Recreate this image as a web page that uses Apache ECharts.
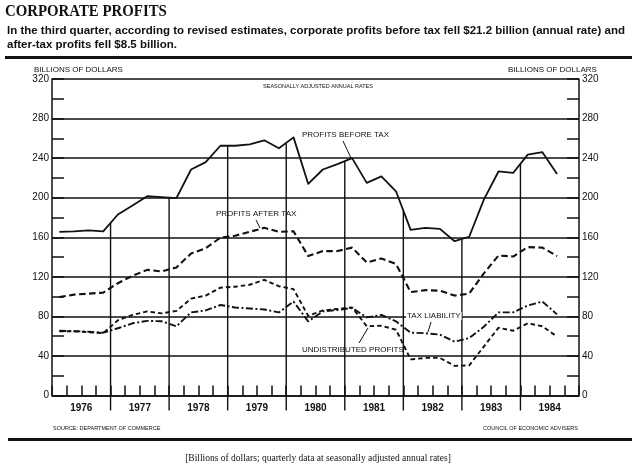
<!DOCTYPE html>
<html><head><meta charset="utf-8">
<script src="https://cdn.jsdelivr.net/npm/echarts@6/dist/echarts.min.js"></script>
<style>html,body{margin:0;padding:0;background:#fff}#c{width:637px;height:466px}</style>
</head><body><div id="c"></div>
<script>
// ---- data (billions of dollars, seasonally adjusted annual rates, 1976Q1..1984Q3) ----
const years = ['1976','1977','1978','1979','1980','1981','1982','1983','1984'];
const yTickValues = [0, 40, 80, 120, 160, 200, 240, 280, 320];
const beforeTax = [165.5,166,167,166, 183,192,201.5,200.5, 199.5,228.5,236,252.5, 252.5,254,258,250, 261,214,228.5,234, 240,215,221.5,206.5, 167.5,169.5,168.5,156, 160.5,198,226.5,225, 243.5,246,224];
const afterTax = [99.5,102,103,104, 113.5,121,127,125.5, 129.5,143.5,149,159.5, 161.5,165.5,169.5,165.5, 166,141,146,146, 149.5,134.5,138.5,133, 104.5,106.5,106,101, 103,123.5,141.5,140.5, 150,149.5,141];
const taxLiability = [65.5,65,64.5,63.5, 68,73,75.5,75, 70,84,86,91.5, 89,88,87,84, 95,75,85,86.5, 88.5,79,81.5,75, 63.5,63,61.5,54.5, 58,69.5,84,84, 91,95,82];
const undistributed = [65,65,64,63, 76,81.5,85,83, 85.5,98,101,109, 110,112,117,110.5, 107.5,80.5,86,87.5, 89,70,70.5,66.5, 36.5,38,38,30, 30.5,49.5,68.5,65.5, 73,70,59.5];

const qx = i => +years[0] + (i + 0.5) / 4;   // quarter midpoint on the time axis
const pairs = arr => arr.map((v, i) => [qx(i), v]);
function beforeTaxAt(x) {
  const pts = pairs(beforeTax);
  if (x <= pts[0][0]) return pts[0][1];
  for (let k = 1; k < pts.length; k++) {
    if (x <= pts[k][0]) {
      const t = (x - pts[k-1][0]) / (pts[k][0] - pts[k-1][0]);
      return pts[k-1][1] + t * (pts[k][1] - pts[k-1][1]);
    }
  }
  return pts[pts.length-1][1];
}

const INK = '#111';
const chart = echarts.init(document.getElementById('c'), null, {renderer: 'canvas'});
const sans = 'Liberation Sans';

function lineSeries(name, arr, type, width) {
  return {
    name, type: 'line', data: pairs(arr), symbol: 'none', silent: true,
    lineStyle: {color: INK, width, type, cap: 'butt', join: 'round'}, z: 5
  };
}

const yAxisBase = {
  type: 'value', min: 0, max: 320, interval: 40,
  axisLine: {show: true, lineStyle: {color: INK, width: 1.5}},
  axisTick: {show: true, inside: true, length: 12, lineStyle: {color: INK, width: 1.5}},
  minorTick: {show: true, splitNumber: 2, length: 12, lineStyle: {color: INK, width: 1.5}},
  axisLabel: {color: INK, fontFamily: sans, fontSize: 10, margin: 3,
    formatter: v => yTickValues.includes(v) ? String(v) : ''}
};

chart.setOption({
  animation: false,
  backgroundColor: '#fff',
  grid: {left: 52, right: 58, top: 79, bottom: 70.5, containLabel: false},
  xAxis: {
    type: 'value', min: 1976, max: 1985, interval: 0.25,
    axisLine: {show: true, lineStyle: {color: INK, width: 1.5}},
    axisTick: {show: true, inside: true, length: 10, lineStyle: {color: INK, width: 1.5}},
    splitLine: {show: false},
    axisLabel: {show: true, color: INK, fontFamily: sans, fontSize: 10, fontWeight: 'bold', margin: 8,
      formatter: v => (Math.abs(v - Math.floor(v) - 0.5) < 1e-6) ? years[Math.floor(v) - 1976] : ''}
  },
  yAxis: [
    Object.assign({}, yAxisBase, {position: 'left',
      splitLine: {show: true, lineStyle: {color: INK, width: 1.5}}}),
    Object.assign({}, yAxisBase, {position: 'right', splitLine: {show: false}})
  ],
  series: [
    {
      type: 'custom', name: 'yearSeparators', clip: false, silent: true, z: 3,
      data: years.slice(1).map(y => [+y, 0]),
      renderItem: (params, api) => {
        const x = api.value(0);
        const top = api.coord([x, beforeTaxAt(x)]);
        const bot = api.coord([x, 0]);
        return {type: 'line', shape: {x1: top[0], y1: top[1], x2: bot[0], y2: bot[1] + 15},
          style: {stroke: INK, lineWidth: 1.4}};
      }
    },
    lineSeries('Profits before tax', beforeTax, 'solid', 1.8),
    lineSeries('Profits after tax', afterTax, [6.5, 3.5], 2.1),
    lineSeries('Tax liability', taxLiability, [7, 2.5, 2, 2.5], 1.9),
    lineSeries('Undistributed profits', undistributed, [4.5, 3], 1.9)
  ],
  graphic: [
    {type: 'text', left: 5, top: 3, scaleX: 0.9, style: {text: 'CORPORATE PROFITS', fill: INK,
      font: 'bold 16.5px "Liberation Serif"'}},
    {type: 'text', left: 7, top: 25, style: {text: 'In the third quarter, according to revised estimates, corporate profits before tax fell $21.2 billion (annual rate) and', fill: INK,
      font: 'bold 11.5px "Liberation Sans"'}},
    {type: 'text', left: 7, top: 39, style: {text: 'after-tax profits fell $8.5 billion.', fill: INK,
      font: 'bold 11.5px "Liberation Sans"'}},
    {type: 'rect', shape: {x: 5, y: 56, width: 627, height: 3}, style: {fill: INK}},
    {type: 'text', left: 34, top: 66, style: {text: 'BILLIONS OF DOLLARS', fill: INK, font: '8px "Liberation Sans"'}},
    {type: 'text', left: 508, top: 66, style: {text: 'BILLIONS OF DOLLARS', fill: INK, font: '8px "Liberation Sans"'}},
    {type: 'text', x: 318, y: 86, style: {text: 'SEASONALLY ADJUSTED ANNUAL RATES', fill: INK, align: 'center', verticalAlign: 'middle',
      font: '5.5px "Liberation Sans"'}},
    {type: 'text', x: 302, y: 135, style: {text: 'PROFITS BEFORE TAX', fill: INK, verticalAlign: 'middle', font: '8px "Liberation Sans"'}},
    {type: 'line', shape: {x1: 343, y1: 141, x2: 351, y2: 158}, style: {stroke: INK, lineWidth: 1}},
    {type: 'text', x: 216, y: 214, style: {text: 'PROFITS AFTER TAX', fill: INK, verticalAlign: 'middle', font: '8px "Liberation Sans"'}},
    {type: 'line', shape: {x1: 256, y1: 220, x2: 260, y2: 228}, style: {stroke: INK, lineWidth: 1}},
    {type: 'text', x: 406, y: 316, z: 10, style: {text: 'TAX LIABILITY', fill: INK, verticalAlign: 'middle', font: '8px "Liberation Sans"',
      backgroundColor: '#fff', padding: [0, 1]}},
    {type: 'line', shape: {x1: 431, y1: 322, x2: 428, y2: 332}, style: {stroke: INK, lineWidth: 1}},
    {type: 'text', x: 302, y: 350, style: {text: 'UNDISTRIBUTED PROFITS', fill: INK, verticalAlign: 'middle', font: '8px "Liberation Sans"'}},
    {type: 'line', shape: {x1: 359, y1: 343, x2: 368, y2: 328}, style: {stroke: INK, lineWidth: 1}},
    {type: 'text', x: 53, y: 428, style: {text: 'SOURCE: DEPARTMENT OF COMMERCE', fill: INK, verticalAlign: 'middle', font: '5.5px "Liberation Sans"'}},
    {type: 'text', x: 578, y: 428, style: {text: 'COUNCIL OF ECONOMIC ADVISERS', fill: INK, align: 'right', verticalAlign: 'middle', font: '5.5px "Liberation Sans"'}},
    {type: 'rect', shape: {x: 8, y: 438, width: 624, height: 3}, style: {fill: INK}},
    {type: 'text', x: 318, y: 458, style: {text: '[Billions of dollars; quarterly data at seasonally adjusted annual rates]', fill: INK,
      align: 'center', verticalAlign: 'middle', font: '9.5px "Liberation Serif"'}}
  ]
});
</script>
</body></html>
